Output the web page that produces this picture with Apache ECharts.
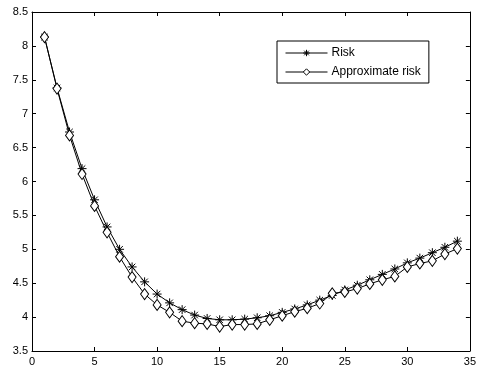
<!DOCTYPE html>
<html><head><meta charset="utf-8">
<script src="https://cdn.jsdelivr.net/npm/echarts@6/dist/echarts.min.js"></script>
<style>html,body{margin:0;padding:0;background:#fff}#c{width:479px;height:370px}</style>
</head><body><div id="c"></div>
<script>
var xValues = [1,2,3,4,5,6,7,8,9,10,11,12,13,14,15,16,17,18,19,20,21,22,23,24,25,26,27,28,29,30,31,32,33,34];
var risk = [8.13,7.38,6.73,6.19,5.73,5.33,5.00,4.74,4.52,4.34,4.21,4.11,4.03,3.98,3.96,3.96,3.97,3.99,4.02,4.07,4.12,4.18,4.25,4.32,4.40,4.47,4.55,4.63,4.71,4.80,4.87,4.95,5.03,5.12];
var approxRisk = [8.13,7.37,6.68,6.11,5.64,5.25,4.89,4.59,4.34,4.18,4.07,3.94,3.91,3.90,3.86,3.89,3.89,3.90,3.96,4.02,4.08,4.13,4.20,4.35,4.37,4.42,4.49,4.55,4.60,4.74,4.79,4.83,4.93,5.01];
var seriesNames = ['Risk','Approximate risk'];

var star = 'path://M0,-5L0,5M-5,0L5,0M-3.6,-3.6L3.6,3.6M-3.6,3.6L3.6,-3.6';
var font = 'Liberation Sans, Arial, sans-serif';
function pairs(ys){return xValues.map(function(x,i){return [x,ys[i]];});}
var axisCommon = {
  axisLine:{show:true,onZero:false,lineStyle:{color:'#000',width:1}},
  axisTick:{show:true,inside:true,length:4,lineStyle:{color:'#000'}},
  splitLine:{show:false}
};
var chart = echarts.init(document.getElementById('c'),null,{renderer:'canvas'});
chart.setOption({
  animation:false,
  backgroundColor:'#fff',
  grid:{left:32,right:9,top:12,bottom:19},
  legend:{
    orient:'vertical',left:277,top:41,
    data:seriesNames,
    itemWidth:42,itemHeight:8,itemGap:7,
    padding:[6,8,5,8],
    borderColor:'#000',borderWidth:1,backgroundColor:'#fff',
    lineStyle:{width:1,color:'#000'},
    itemStyle:{borderWidth:1},
    textStyle:{fontFamily:font,fontSize:12,color:'#000',padding:[0,0,0,-1]}
  },
  xAxis:[
    Object.assign({type:'value',min:0,max:35,interval:5,position:'bottom',
      axisLabel:{color:'#000',fontFamily:font,fontSize:11,margin:5}},axisCommon),
    Object.assign({type:'value',min:0,max:35,interval:5,position:'top',
      axisLabel:{show:false}},axisCommon)
  ],
  yAxis:[
    Object.assign({type:'value',min:3.5,max:8.5,interval:0.5,position:'left',
      axisLabel:{color:'#000',fontFamily:font,fontSize:11,margin:4}},axisCommon),
    Object.assign({type:'value',min:3.5,max:8.5,interval:0.5,position:'right',
      axisLabel:{show:false}},axisCommon)
  ],
  series:[
    {name:seriesNames[0],type:'line',data:pairs(risk),symbol:star,symbolSize:9,showAllSymbol:true,
     lineStyle:{color:'#000',width:1},itemStyle:{color:'#000',borderColor:'#000',borderWidth:1}},
    {name:seriesNames[1],type:'line',data:pairs(approxRisk),symbol:'diamond',symbolSize:[8,11],showAllSymbol:true,
     lineStyle:{color:'#000',width:1},itemStyle:{color:'#fff',borderColor:'#000',borderWidth:1}}
  ]
});
</script></body></html>
